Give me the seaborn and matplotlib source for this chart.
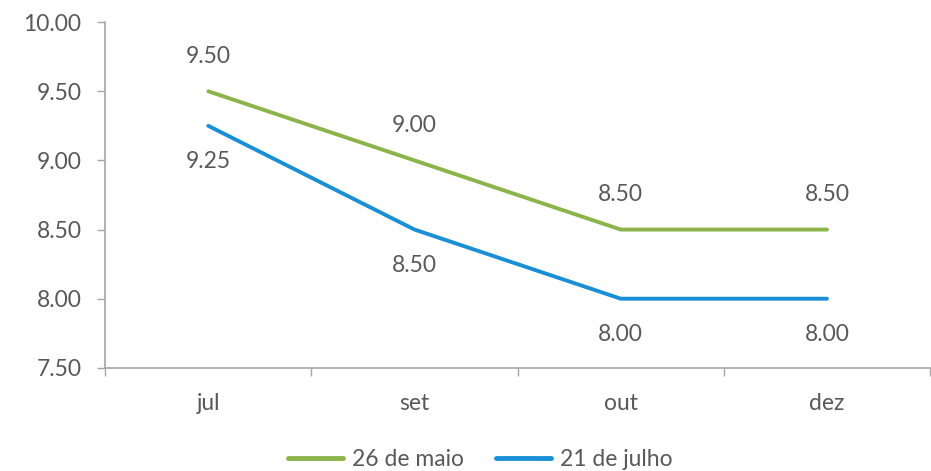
import pandas as pd
import matplotlib.pyplot as plt
import seaborn as sns
from matplotlib.ticker import FixedLocator

# dados
meses = ["jul", "set", "out", "dez"]
serie_maio = [9.50, 9.00, 8.50, 8.50]
serie_julho = [9.25, 8.50, 8.00, 8.00]
nomes = ["26 de maio", "21 de julho"]
cores = ["#8CB44A", "#1A8FD6"]

df = pd.DataFrame({
    "mes": meses * 2,
    "pos": list(range(len(meses))) * 2,
    "valor": serie_maio + serie_julho,
    "serie": [nomes[0]] * 4 + [nomes[1]] * 4,
})

sns.set_style("white")
plt.rcParams["font.family"] = ["Lato", "DejaVu Sans"]
cinza = "#595959"
fs = 16.5

fig = plt.figure(figsize=(9.31, 4.71), dpi=100)
ax = fig.add_axes([0.113, 0.219, 0.886, 0.734])

sns.lineplot(data=df, x="pos", y="valor", hue="serie", palette=cores,
             linewidth=2.8, sort=False, ax=ax, legend=True)

# rotulos de dados
for i, v in enumerate(serie_maio):
    ax.annotate(f"{v:.2f}", (i, v), xytext=(0, 25), textcoords="offset points",
                ha="center", va="center", fontsize=fs, color=cinza)
for i, v in enumerate(serie_julho):
    ax.annotate(f"{v:.2f}", (i, v), xytext=(0, -26), textcoords="offset points",
                ha="center", va="center", fontsize=fs, color=cinza)

ax.set_xlim(-0.5, len(meses) - 0.5)
ax.set_ylim(7.5, 10.0)
ax.set_yticks([7.5, 8.0, 8.5, 9.0, 9.5, 10.0])
ax.set_yticklabels([f"{t:.2f}" for t in ax.get_yticks()])
ax.set_xticks(range(len(meses)))
ax.set_xticklabels(meses)
ax.xaxis.set_minor_locator(FixedLocator([i - 0.5 for i in range(len(meses) + 1)]))
ax.tick_params(axis="x", which="major", length=0, pad=18, labelsize=fs, labelcolor=cinza)
ax.tick_params(axis="x", which="minor", length=6, width=1, color="#A6A6A6", direction="out", bottom=True)
ax.tick_params(axis="y", length=6, width=1, color="#A6A6A6", direction="out", left=True,
               pad=11, labelsize=fs, labelcolor=cinza)
ax.set_xlabel("")
ax.set_ylabel("")

for s in ["top", "right"]:
    ax.spines[s].set_visible(False)
for s in ["left", "bottom"]:
    ax.spines[s].set_color("#A6A6A6")
    ax.spines[s].set_linewidth(1.2)

leg = ax.legend(loc="upper center", bbox_to_anchor=(0.455, -0.235), ncol=2, frameon=False,
                fontsize=fs, handlelength=2.4, columnspacing=1.4, handletextpad=0.4,
                borderaxespad=0, borderpad=0)
for t in leg.get_texts():
    t.set_color(cinza)
for h in leg.get_lines():
    h.set_linewidth(3.5)

fig.savefig("out.png", dpi=100)
